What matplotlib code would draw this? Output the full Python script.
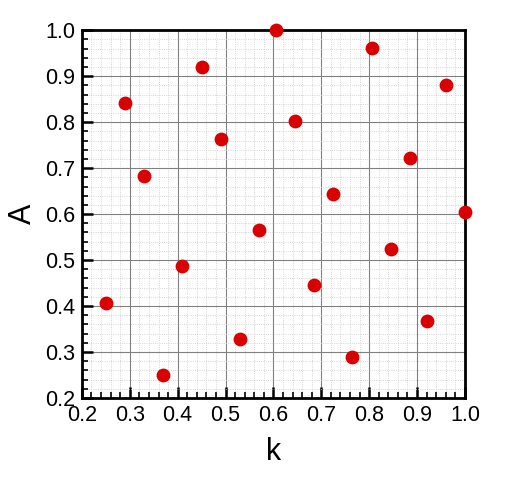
import numpy as np
import matplotlib.pyplot as plt
from matplotlib.ticker import MultipleLocator

plt.rcParams['font.family'] = ['Liberation Sans', 'DejaVu Sans']

# 采样点
k_vals = [0.25, 0.29, 0.33, 0.37, 0.41, 0.45, 0.49, 0.53, 0.57, 0.605,
          0.645, 0.685, 0.725, 0.765, 0.805, 0.845, 0.885, 0.92, 0.96, 1.0]
A_vals = [0.407, 0.842, 0.683, 0.25, 0.487, 0.921, 0.763, 0.328, 0.565, 1.0,
          0.802, 0.446, 0.644, 0.288, 0.961, 0.525, 0.723, 0.367, 0.881, 0.604]

fig = plt.figure(figsize=(5.12, 4.8), dpi=100)
ax = fig.add_axes([0.16, 0.171, 0.748, 0.766])

ax.scatter(k_vals, A_vals, s=80, color='#d80000', zorder=3, clip_on=False)

ax.set_xlim(0.2, 1.0)
ax.set_ylim(0.2, 1.0)
ax.xaxis.set_major_locator(MultipleLocator(0.1))
ax.yaxis.set_major_locator(MultipleLocator(0.1))
ax.xaxis.set_minor_locator(MultipleLocator(0.02))
ax.yaxis.set_minor_locator(MultipleLocator(0.02))
ax.xaxis.set_major_formatter(plt.FormatStrFormatter('%.1f'))
ax.yaxis.set_major_formatter(plt.FormatStrFormatter('%.1f'))

ax.grid(which='major', color='#808080', linewidth=0.8)
ax.grid(which='minor', color='#c8c8c8', linewidth=0.6, linestyle=':')
ax.set_axisbelow(True)

ax.tick_params(which='major', direction='in', length=8, width=1.8, labelsize=15.5, pad=5)
ax.tick_params(which='minor', direction='in', length=4, width=1.2)
for s in ax.spines.values():
    s.set_linewidth(2)

ax.set_xlabel('k', fontsize=22, labelpad=8)
ax.set_ylabel('A', fontsize=22, labelpad=5)

fig.savefig('out.png', dpi=100)
